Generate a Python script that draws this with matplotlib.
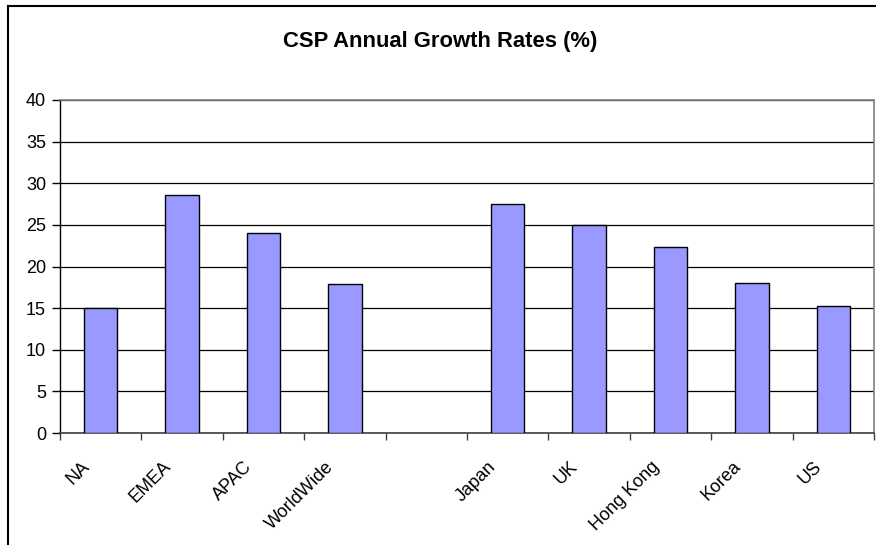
import matplotlib
matplotlib.use("Agg")
import matplotlib.pyplot as plt
import matplotlib.transforms as mtransforms
import numpy as np

# --- Data ---
categories = ["NA", "EMEA", "APAC", "WorldWide", "", "Japan", "UK", "Hong Kong", "Korea", "US"]
growth = [15.0, 28.6, 24.0, 17.9, np.nan, 27.5, 25.0, 22.3, 18.0, 15.2]
y_ticks = [0, 5, 10, 15, 20, 25, 30, 35, 40]

plt.rcParams["font.family"] = ["Liberation Sans", "DejaVu Sans"]

W, H = 876, 545
fig = plt.figure(figsize=(W / 100, H / 100), dpi=100, facecolor="white")
ax = fig.add_axes([60 / W, (H - 433) / H, (874 - 60) / W, (433 - 100) / H])

# outer chart frame (only top and left edges visible in the crop)
fig.add_artist(plt.Line2D([7.5 / W, 7.5 / W], [0, (H - 6) / H], color="black", lw=1.5,
                          transform=fig.transFigure))
fig.add_artist(plt.Line2D([7.5 / W, 1], [(H - 6) / H, (H - 6) / H], color="black", lw=1.5,
                          transform=fig.transFigure))

x = np.arange(len(categories))
ax.bar(x, growth, width=0.41, color="#9999FF", edgecolor="black", linewidth=1.0, zorder=3)

ax.set_xlim(-0.5, len(categories) - 0.5)
ax.set_ylim(0, 40)
ax.set_yticks(y_ticks)
ax.yaxis.grid(True, color="black", linewidth=0.9, zorder=0)
ax.set_axisbelow(True)

# ticks at category boundaries, labels at centers
ax.set_xticks(np.arange(len(categories) + 1) - 0.5)
ax.set_xticklabels([])
ax.set_xticks(x, minor=True)
ax.set_xticklabels(categories, minor=True, rotation=45, ha="right", va="top", fontsize=13)
ax.tick_params(axis="x", which="major", direction="out", length=5, width=1, color="#404040")
ax.tick_params(axis="x", which="minor", length=0, pad=18)
ax.tick_params(axis="y", direction="out", length=6, width=1, labelsize=13, pad=4)
shift = mtransforms.ScaledTranslation(-8 / 100, 0, fig.dpi_scale_trans)
for lab in ax.get_xticklabels(minor=True):
    lab.set_transform(lab.get_transform() + shift)

for side in ["top", "right"]:
    ax.spines[side].set_color("#808080")
    ax.spines[side].set_linewidth(1.2)
ax.spines["left"].set_color("black")
ax.spines["left"].set_linewidth(1.0)
ax.spines["bottom"].set_color("#404040")
ax.spines["bottom"].set_linewidth(1.2)

fig.text(440 / W, (H - 42) / H, "CSP Annual Growth Rates (%)", ha="center", va="center",
         fontsize=15.8, fontweight="bold")

fig.savefig("out.png", dpi=100, facecolor="white")
